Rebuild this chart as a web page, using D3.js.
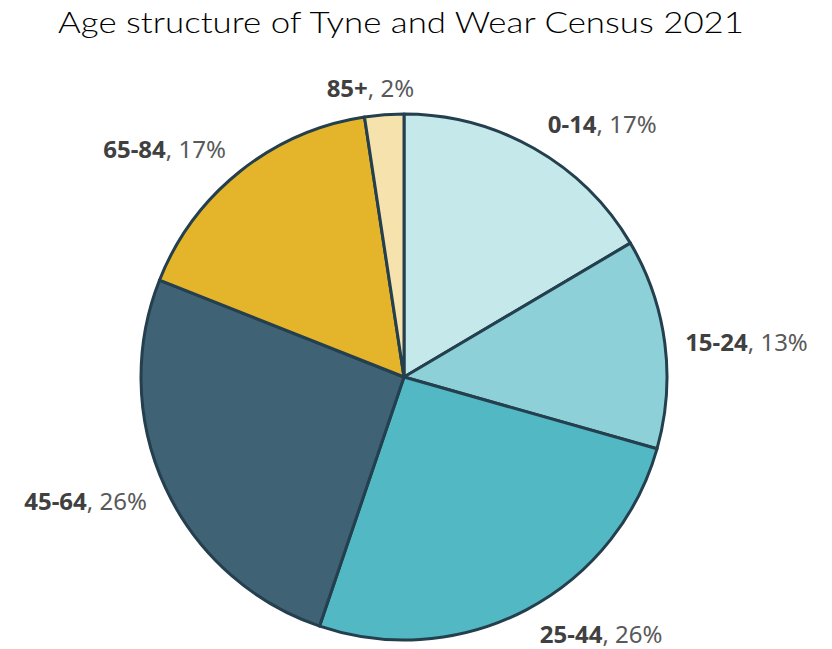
<!DOCTYPE html>
<html>
<head>
<meta charset="utf-8">
<script src="https://cdn.jsdelivr.net/npm/d3@7"></script>
<style>
  html, body { margin: 0; padding: 0; background: #fff; }
  svg { display: block; }
</style>
</head>
<body>
<svg id="chart" width="832" height="649"></svg>
<script>
// Age bands and their share of the population (%)
const categories = ["0-14", "15-24", "25-44", "45-64", "65-84", "85+"];
const shares = [16.5, 12.9, 25.8, 25.8, 16.6, 2.4];
const sliceColors = ["#C5E8EA", "#8DD0D7", "#52B8C4", "#3F6274", "#E4B52A", "#F5E2AC"];
const titleText = "Age structure of Tyne and Wear Census 2021";

const width = 832, height = 649;
const cx = 404, cy = 377, radius = 263;
const svg = d3.select("#chart");

const titleFont = "'Century Gothic', Lato, 'DejaVu Sans', sans-serif";
const labelFont = "'Century Gothic', 'Noto Sans', 'DejaVu Sans', sans-serif";

svg.append("text")
  .attr("x", 401).attr("y", 33)
  .attr("text-anchor", "middle")
  .attr("font-family", titleFont)
  .attr("font-size", 30)
  .attr("font-weight", 300)
  .attr("fill", "#000")
  .attr("textLength", 686)
  .attr("lengthAdjust", "spacingAndGlyphs")
  .text(titleText);

const data = categories.map((c, i) => ({ cat: c, value: shares[i], color: sliceColors[i] }));

const pie = d3.pie().value(d => d.value).sort(null);
const arcs = pie(data);
const arc = d3.arc().innerRadius(0).outerRadius(radius);

const g = svg.append("g").attr("transform", `translate(${cx},${cy})`);

g.selectAll("path.slice")
  .data(arcs)
  .join("path")
  .attr("class", "slice")
  .attr("d", arc)
  .attr("fill", d => d.data.color)
  .attr("stroke", "#243F4E")
  .attr("stroke-width", 3)
  .attr("stroke-linejoin", "round");

// Outside-end labels: anchor point just beyond the rim on the mid-angle ray,
// box pushed outward along the same direction, with small nudges.
const labelNudge = {
  "0-14": [31, 6], "15-24": [1, 2], "25-44": [37, -9],
  "45-64": [-6, -3], "65-84": [-25, 5], "85+": [-9, 9]
};
const gap = 20;
const fontSize = 24;

const labels = g.selectAll("text.lbl")
  .data(arcs)
  .join("text")
  .attr("class", "lbl")
  .attr("font-family", labelFont)
  .attr("font-size", fontSize)
  .attr("text-anchor", "middle")
  .attr("dominant-baseline", "central");

labels.append("tspan")
  .attr("font-weight", "bold")
  .attr("fill", "#404040")
  .text(d => d.data.cat);
labels.append("tspan")
  .attr("fill", "#595959")
  .text(d => `, ${Math.round(d.data.value)}%`);

labels.each(function(d) {
  const t = d3.select(this);
  const bb = this.getBBox();
  const a = (d.startAngle + d.endAngle) / 2;
  const dx = Math.sin(a), dy = -Math.cos(a);
  const px = dx * (radius + gap), py = dy * (radius + gap);
  const n = labelNudge[d.data.cat];
  const x = px + dx * bb.width / 2 + n[0];
  const y = py + dy * bb.height / 2 + n[1];
  t.attr("x", x).attr("y", y);
});
</script>
</body>
</html>
